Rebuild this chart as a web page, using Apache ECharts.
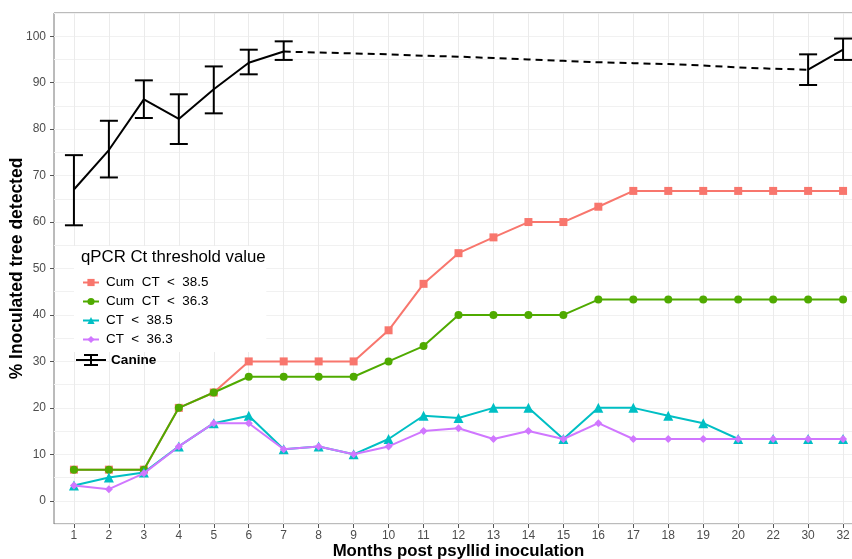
<!DOCTYPE html>
<html>
<head>
<meta charset="utf-8">
<script src="https://cdn.jsdelivr.net/npm/echarts@6/dist/echarts.min.js"></script>
<style>html,body{margin:0;padding:0;background:#fff;}#chart{width:852px;height:559px;}</style>
</head>
<body>
<div id="chart"></div>
<script>
const months = ['1','2','3','4','5','6','7','8','9','10','11','12','13','14','15','16','17','18','19','20','22','30','32'];
const yTicks = [0,10,20,30,40,50,60,70,80,90,100];

const cumCt385 = [6.7,6.7,6.7,20,23.3,30,30,30,30,36.7,46.7,53.3,56.7,60,60,63.3,66.7,66.7,66.7,66.7,66.7,66.7,66.7];
const cumCt363 = [6.7,6.7,6.7,20,23.3,26.7,26.7,26.7,26.7,30,33.3,40,40,40,40,43.3,43.3,43.3,43.3,43.3,43.3,43.3,43.3];
const ct385 = [3.3,5,6.1,11.7,16.7,18.3,11.1,11.7,10,13.3,18.3,17.8,20,20,13.3,20,20,18.3,16.7,13.3,13.3,13.3,13.3];
const ct363 = [3.3,2.5,5.9,11.7,16.7,16.7,11.1,11.7,10,11.7,15,15.6,13.3,15,13.3,16.7,13.3,13.3,13.3,13.3,13.3,13.3,13.3];

const canineMonths = ['1','2','3','4','5','6','7','30','32'];
const canineMean = [67.0,75.5,86.4,82.2,88.6,94.3,96.7,92.8,97.1];
const canineLow  = [59.3,69.6,82.4,76.8,83.4,91.8,94.9,89.5,94.9];
const canineHigh = [74.4,81.8,90.5,87.5,93.5,97.1,98.9,96.1,99.5];

const trendMonths = ['7','8','9','10','11','12','13','14','15','16','17','18','19','20','22','30'];
const trendValues = [96.7,96.5,96.3,96.1,95.8,95.6,95.3,95.0,94.7,94.4,94.2,94.0,93.7,93.3,93.0,92.8];

const seriesNames = ['Cum  CT  <  38.5','Cum  CT  <  36.3','CT  <  38.5','CT  <  36.3'];
const seriesColors = ['#F8766D','#4FAA00','#00BFC4','#D077FF'];

const idx = m => months.indexOf(m) + 1;
const pairs = arr => arr.map((v, i) => [i + 1, v]);

const solidCanine = [];
canineMonths.forEach((m, i) => {
  if (i > 0 && idx(m) - idx(canineMonths[i - 1]) > 1) solidCanine.push('-');
  solidCanine.push([idx(m), canineMean[i]]);
});
const errData = canineMonths.map((m, i) => [idx(m), canineLow[i], canineHigh[i]]);
const trendData = trendMonths.map((m, i) => [idx(m), trendValues[i]]);
const catIdx = months.map((m, i) => i + 1);

const chart = echarts.init(document.getElementById('chart'), null, {renderer: 'canvas'});
const FONT = 'Liberation Sans, Arial, sans-serif';

const symbols = ['rect','circle','triangle','diamond'];
const symSizes = [8, 8, 10, 8];

const option = {
  animation: false,
  backgroundColor: '#fff',
  textStyle: {fontFamily: FONT},
  title: {
    text: 'qPCR Ct threshold value',
    left: 81, top: 249,
    padding: 0,
    textStyle: {fontSize: 16.8, fontWeight: 'normal', color: '#000', fontFamily: FONT},
    z: 10
  },
  legend: [{
    data: seriesNames,
    orient: 'vertical',
    left: 74, top: 246,
    padding: [30, 58, 6, 8],
    backgroundColor: '#fff',
    itemWidth: 16, itemHeight: 9, itemGap: 6,
    textStyle: {fontSize: 13.4, color: '#000', fontFamily: FONT, padding: [0,0,0,2]},
    z: 5
  }, {
    data: [{name: 'Canine', icon: 'path://M0,5h30v2h-30z M8,0h14v2h-14z M8,10h14v2h-14z M14,0h2v12h-2z'}],
    left: 74, top: 353,
    padding: [0, 4, 0, 2],
    itemWidth: 30, itemHeight: 12,
    textStyle: {fontSize: 13.6, fontWeight: 'bold', color: '#000', fontFamily: FONT},
    z: 5
  }],
  grid: {left: 54, top: 13, width: 809, height: 511, outerBoundsMode: 'none', containLabel: false, show: true, borderColor: '#777', borderWidth: 1, backgroundColor: 'transparent'},
  xAxis: [{
    type: 'value', min: 0.43, max: 23.57,
    name: 'Months post psyllid inoculation', nameLocation: 'middle', nameGap: 19, nameMoveOverlap: false,
    nameTextStyle: {fontSize: 16.8, fontWeight: 'bold', color: '#000', fontFamily: FONT},
    axisLine: {show: false, onZero: false},
    axisTick: {show: true, customValues: catIdx, length: 4, lineStyle: {color: '#555'}},
    axisLabel: {customValues: catIdx, formatter: v => months[Math.round(v) - 1], fontSize: 12, color: '#4D4D4D', margin: 6, fontFamily: FONT},
    splitLine: {show: true, lineStyle: {color: '#EBEBEB', width: 1}}
  }],
  yAxis: [{
    type: 'value', min: -5, max: 105, interval: 5,
    name: '% Inoculated tree detected', nameLocation: 'middle', nameGap: 28, nameMoveOverlap: false,
    nameTextStyle: {fontSize: 17.5, fontWeight: 'bold', color: '#000', fontFamily: FONT},
    axisLine: {show: false, onZero: false},
    axisTick: {show: true, customValues: yTicks, length: 4, lineStyle: {color: '#555'}},
    axisLabel: {customValues: yTicks, fontSize: 12, color: '#4D4D4D', margin: 8, fontFamily: FONT},
    splitLine: {show: true, lineStyle: {color: '#EBEBEB', width: 1}}
  }, {
    type: 'value', min: -5, max: 105, interval: 5, gridIndex: 0,
    axisLine: {show: false, onZero: false}, axisTick: {show: false}, axisLabel: {show: false},
    splitLine: {show: true, lineStyle: {color: '#F1F1F1', width: 1}}
  }],
  series: [
    ...[cumCt385, cumCt363, ct385, ct363].map((arr, k) => ({
      type: 'line', name: seriesNames[k], data: pairs(arr),
      symbol: symbols[k], symbolSize: symSizes[k], showSymbol: true,
      lineStyle: {color: seriesColors[k], width: 2},
      itemStyle: {color: seriesColors[k]},
      z: 3 + k
    })),
    {
      type: 'line', name: 'Canine mean', data: solidCanine,
      symbol: 'none', lineStyle: {color: '#000', width: 2}, itemStyle: {color: '#000'}, z: 8
    },
    {
      type: 'line', name: 'Canine trend', data: trendData,
      symbol: 'none', smooth: false, lineStyle: {color: '#000', width: 2, type: [7, 5]}, itemStyle: {color: '#000'}, z: 8
    },
    {
      type: 'custom', name: 'Canine', data: errData,
      itemStyle: {color: '#000'},
      encode: {x: 0, y: [1, 2]},
      renderItem: function (params, api) {
        const x = api.value(0);
        const lo = api.coord([x, api.value(1)]);
        const hi = api.coord([x, api.value(2)]);
        const hw = 9;
        const st = {stroke: '#000', lineWidth: 2, fill: null};
        return {type: 'group', children: [
          {type: 'line', shape: {x1: lo[0], y1: lo[1], x2: hi[0], y2: hi[1]}, style: st},
          {type: 'line', shape: {x1: lo[0] - hw, y1: lo[1], x2: lo[0] + hw, y2: lo[1]}, style: st},
          {type: 'line', shape: {x1: hi[0] - hw, y1: hi[1], x2: hi[0] + hw, y2: hi[1]}, style: st}
        ]};
      },
      z: 9
    }
  ]
};
chart.setOption(option);
</script>
</body>
</html>
